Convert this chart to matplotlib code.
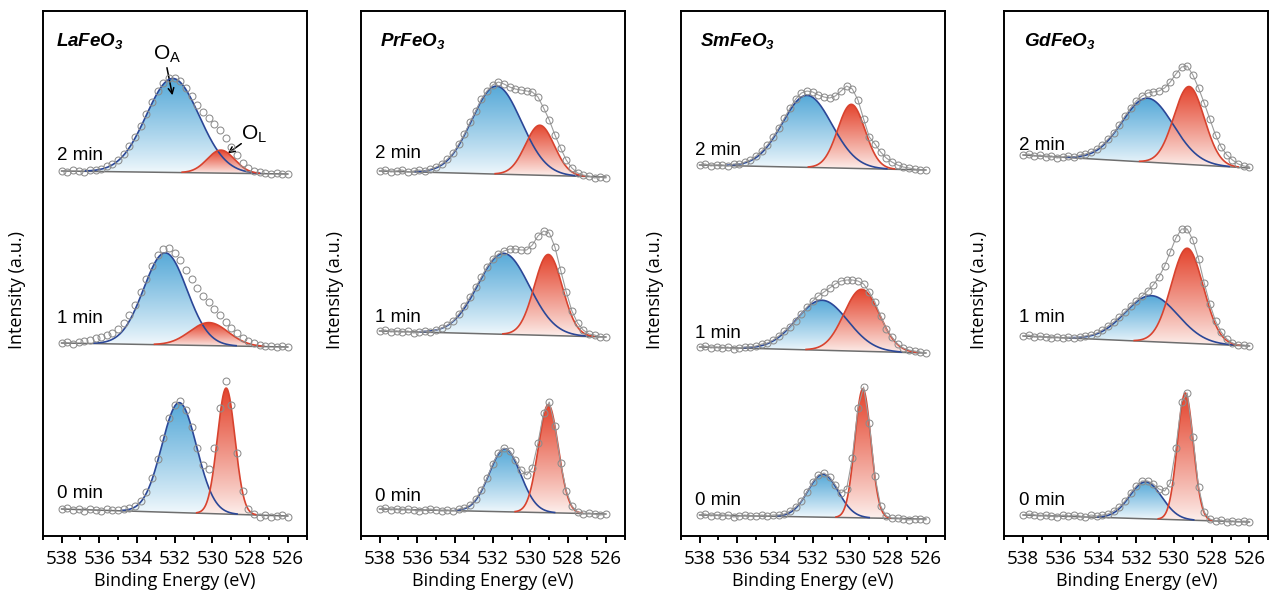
#!/usr/bin/env python3

import numpy as np
import matplotlib
matplotlib.use("Agg")
import matplotlib.pyplot as plt
from matplotlib.ticker import MultipleLocator
from matplotlib.colors import to_rgb


# measured O 1s points, 538 -> 526 eV in 0.3 eV steps (stacked, arbitrary units)
energy = np.linspace(538.0, 526.0, 41)

titles = [r"$\mathbf{LaFeO_3}$", r"$\mathbf{PrFeO_3}$",
          r"$\mathbf{SmFeO_3}$", r"$\mathbf{GdFeO_3}$"]
times = ["0 min", "1 min", "2 min"]

la_counts = [
    [27, 28, 26, 27, 25, 27, 26, 25, 27, 26, 26, 27, 28, 30, 35, 44, 58, 77, 98, 118, 131,
     135, 126, 109, 88, 71, 67, 88, 128, 155, 131, 83, 45, 27, 22, 19, 21, 19, 20, 21, 19],
    [193, 194, 192, 194, 195, 196, 198, 199, 201, 203, 207, 213, 221, 231, 244, 257, 270, 281,
     287, 288, 283, 276, 266, 257, 248, 240, 234, 227, 221, 214, 208, 203, 198, 195, 193, 191,
     190, 190, 189, 190, 189],
    [365, 364, 366, 365, 364, 366, 366, 367, 370, 372, 376, 382, 390, 399, 410, 422, 434, 445,
     453, 458, 458, 455, 448, 440, 431, 424, 418, 412, 406, 398, 389, 381, 373, 368, 365, 364,
     363, 362, 363, 362, 362],
]
pr_counts = [
    [27, 28, 26, 27, 26, 27, 26, 25, 26, 27, 26, 25, 26, 25, 27, 28, 31, 37, 46, 58, 72,
     83, 88, 85, 76, 66, 61, 68, 93, 123, 134, 110, 73, 45, 30, 24, 22, 23, 22, 21, 22],
    [205, 206, 204, 205, 204, 205, 203, 204, 205, 204, 206, 208, 211, 215, 222, 230, 239, 249,
     259, 269, 277, 282, 285, 287, 287, 286, 286, 291, 300, 305, 303, 289, 266, 244, 225, 213,
     206, 202, 201, 199, 199],
    [365, 366, 364, 365, 366, 364, 365, 366, 365, 367, 369, 372, 377, 383, 392, 402, 414, 425,
     437, 445, 451, 454, 452, 449, 447, 446, 445, 444, 439, 428, 416, 401, 388, 376, 368, 363,
     361, 360, 358, 359, 358],
]
sm_counts = [
    [21, 22, 20, 21, 20, 21, 19, 20, 21, 20, 20, 21, 20, 21, 21, 22, 25, 29, 35, 44, 54,
     61, 63, 59, 51, 43, 47, 78, 128, 149, 113, 60, 30, 20, 18, 18, 17, 16, 17, 17, 16],
    [189, 190, 188, 189, 188, 189, 187, 188, 189, 189, 190, 192, 193, 196, 200, 205, 209, 215,
     222, 229, 235, 240, 244, 248, 252, 255, 256, 256, 255, 252, 244, 234, 220, 207, 199, 192,
     188, 186, 185, 184, 183],
    [371, 372, 370, 371, 371, 370, 372, 372, 374, 376, 380, 385, 391, 399, 408, 418, 428, 437,
     443, 445, 444, 441, 439, 438, 440, 445, 450, 447, 436, 417, 399, 392, 384, 378, 374, 371,
     369, 368, 367, 366, 366],
]
gd_counts = [
    [21, 22, 21, 20, 21, 20, 19, 21, 20, 21, 20, 19, 21, 20, 21, 22, 25, 29, 35, 43, 50,
     55, 55, 52, 47, 45, 53, 88, 134, 143, 99, 49, 24, 17, 15, 16, 14, 15, 14, 15, 14],
    [200, 201, 199, 200, 199, 198, 199, 198, 199, 198, 199, 200, 201, 203, 206, 210, 214, 219,
     224, 230, 235, 240, 245, 251, 259, 270, 284, 298, 307, 307, 296, 277, 253, 232, 215, 204,
     197, 193, 191, 191, 190],
    [381, 382, 380, 381, 379, 380, 378, 379, 380, 379, 381, 382, 384, 387, 391, 397, 403, 411,
     420, 428, 435, 440, 443, 444, 445, 448, 454, 462, 469, 470, 461, 448, 433, 417, 401, 389,
     381, 376, 372, 370, 369],
]
counts = [la_counts, pr_counts, sm_counts, gd_counts]

# fitted components [compound][time]: O_A (blue) and O_L (red)
oa_center = [[531.76, 532.5, 532.1], [531.35, 531.42, 531.8], [531.45, 531.5, 532.3], [531.5, 531.2, 531.4]]
oa_fwhm = [[2.17, 2.7, 3.3], [1.95, 3.2, 3.1], [1.9, 3.2, 3.1], [2.0, 3.3, 3.2]]
oa_height = [[110, 92, 94], [63, 81, 88], [43, 50, 72], [37, 46, 64]]
ol_center = [[529.27, 530.18, 529.55], [529.05, 529.05, 529.5], [529.34, 529.4, 529.95], [529.4, 529.3, 529.2]]
ol_fwhm = [[1.1, 2.4, 1.7], [1.25, 1.75, 1.8], [1.0, 2.2, 1.7], [1.0, 2.0, 1.9]]
ol_height = [[126, 23, 23], [108, 81, 50], [129, 62, 64], [127, 95, 78]]
# linear background at 538 eV and 526 eV
bg_left = [[27, 193, 365], [27, 205, 365], [21, 189, 371], [21, 200, 381]]
bg_right = [[20, 189, 362], [22, 199, 359], [17, 183, 366], [14, 190, 368]]

# where the "x min" labels sit (baseline, data units)
label_y = [[37.7, 212.7, 376], [35, 214, 377.6], [31.2, 198.4, 380.8], [31.2, 213.6, 386.5]]
title_x = [538.27, 537.95, 537.95, 537.95]

BLUE_LINE = "#2b4797"
RED_LINE = "#d8432f"
BLUE_TOP, BLUE_BOTTOM = "#56a9d8", "#f4fafd"
RED_TOP, RED_BOTTOM = "#e4442d", "#fdf1ee"

plt.rcParams["font.family"] = "Open Sans"
plt.rcParams["mathtext.fontset"] = "custom"
plt.rcParams["mathtext.rm"] = "Liberation Sans"
plt.rcParams["mathtext.it"] = "Liberation Sans:italic"
plt.rcParams["mathtext.bf"] = "Liberation Sans:italic:bold"


def peak(x, center, fwhm, height):
    return height * np.exp(-4 * np.log(2) * ((x - center) / fwhm) ** 2)


def gradient_fill(ax, x, base, top, top_color, bottom_color):
    poly = ax.fill_between(x, base, top, facecolor="none", edgecolor="none")
    t = np.linspace(0, 1, 256)[:, None] ** 0.9
    c0 = np.array(to_rgb(bottom_color))
    c1 = np.array(to_rgb(top_color))
    img = (c0 + (c1 - c0) * t)[:, None, :]
    im = ax.imshow(img, extent=(x.min(), x.max(), base.min(), top.max()),
                   origin="lower", aspect="auto", zorder=1, interpolation="bilinear")
    im.set_clip_path(poly.get_paths()[0], transform=ax.transData)


def plot_spectrum(ax, i, j, envelope_line):
    xf = np.linspace(538.0, 526.0, 500)
    base = bg_right[i][j] + (bg_left[i][j] - bg_right[i][j]) * (xf - 526.0) / 12.0
    oa = peak(xf, oa_center[i][j], oa_fwhm[i][j], oa_height[i][j])
    ol = peak(xf, ol_center[i][j], ol_fwhm[i][j], ol_height[i][j])

    comps = [(oa, BLUE_LINE, BLUE_TOP, BLUE_BOTTOM), (ol, RED_LINE, RED_TOP, RED_BOTTOM)]
    for comp, _, top_c, bot_c in comps:
        m = comp > 0.4
        gradient_fill(ax, xf[m], base[m], base[m] + comp[m], top_c, bot_c)

    ax.plot(xf, base, color="#6e6e6e", lw=1.1, zorder=3)
    for comp, line_c, _, _ in comps:
        m = comp > 0.4
        ax.plot(xf[m], base[m] + comp[m], color=line_c, lw=1.2, zorder=4)

    y = counts[i][j]
    if envelope_line:
        ax.plot(energy, y, color="#9c9c9c", lw=0.8, zorder=5)
    ax.plot(energy, y, "o", ms=5.0, mfc="none", mec="#8c8c8c", mew=0.75, zorder=6)

    ax.text(538.22, label_y[i][j], times[j], family="Liberation Sans",
            fontsize=13.5, ha="left", va="baseline", zorder=7)


def main():
    fig = plt.figure(figsize=(12.69, 5.95), dpi=100)
    lefts = [42.7, 360.7, 680.7, 1004.3]

    for i, left in enumerate(lefts):
        ax = fig.add_axes([left / 1269, 59 / 595, 264 / 1269, 525 / 595])
        for j in range(3):
            plot_spectrum(ax, i, j, envelope_line=(i > 0))

        ax.text(title_x[i], 490, titles[i], fontsize=13.5, ha="left", va="baseline")

        ax.set_xlim(539, 525)
        ax.set_ylim(0, 525)
        ax.set_xticks(np.arange(538, 525, -2))
        ax.xaxis.set_minor_locator(MultipleLocator(1))
        ax.set_yticks([])
        ax.tick_params(axis="x", which="major", direction="out", length=5,
                       width=1.4, labelsize=13.5, pad=5)
        ax.tick_params(axis="x", which="minor", direction="out", length=3, width=1.4)
        for s in ax.spines.values():
            s.set_linewidth(1.4)
        ax.set_xlabel("Binding Energy (eV)", fontsize=13)
        ax.xaxis.set_label_coords(0.5, -0.068)
        ax.set_ylabel("Intensity (a.u.)", fontsize=13)
        ax.yaxis.set_label_coords(-0.063, 0.468)

        if i == 0:
            ax.text(533.16, 476, r"$\mathrm{O_A}$", fontsize=15, ha="left", va="baseline")
            ax.annotate("", xy=(532.09, 438), xytext=(532.44, 471),
                        arrowprops=dict(arrowstyle="->", lw=1.1, color="black"))
            ax.text(528.47, 396, r"$\mathrm{O_L}$", fontsize=15, ha="left", va="baseline")
            ax.annotate("", xy=(529.3, 381), xytext=(528.35, 394),
                        arrowprops=dict(arrowstyle="->", lw=1.1, color="black"))

    fig.savefig("out.png", dpi=100)
    plt.close(fig)


main()
